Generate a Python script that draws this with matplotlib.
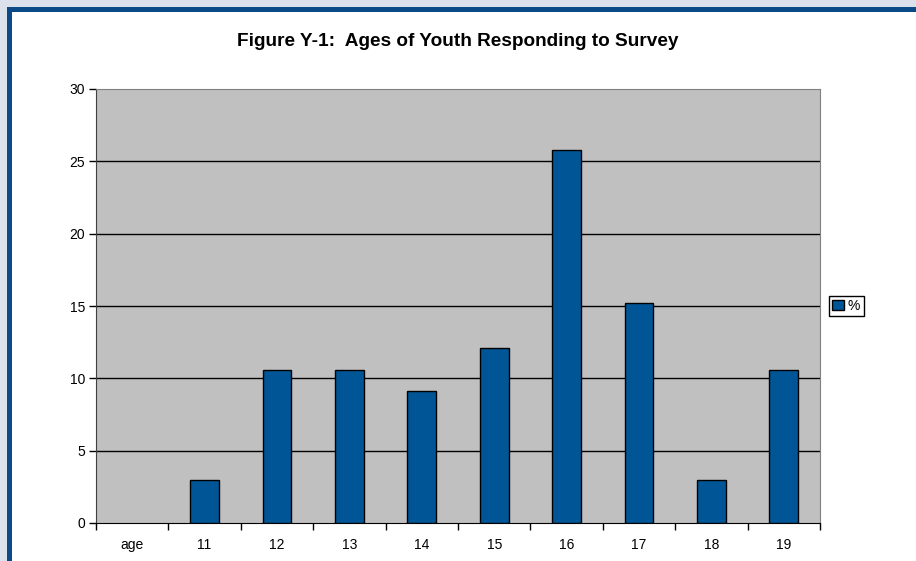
import matplotlib.pyplot as plt
from matplotlib.patches import Rectangle

categories = ['age', '11', '12', '13', '14', '15', '16', '17', '18', '19']
# the "age" header column carries no value
percent = [float('nan'), 3.0, 10.6, 10.6, 9.1, 12.1, 25.8, 15.2, 3.0, 10.6]

plt.rcParams['font.family'] = ['Liberation Sans', 'DejaVu Sans']

fig = plt.figure(figsize=(9.16, 5.61), dpi=100)
W, H = 916, 561

# page frame: pale band with a dark blue rule inside it
fig.patches.append(Rectangle((0, 0), 1, 1, transform=fig.transFigure,
                             facecolor='#dde1ec', edgecolor='none', zorder=-3))
fig.patches.append(Rectangle((7 / W, 0), 1, 1 - 7 / H, transform=fig.transFigure,
                             facecolor='#0b4a86', edgecolor='none', zorder=-2))
fig.patches.append(Rectangle((12 / W, 0), 1, 1 - 12 / H, transform=fig.transFigure,
                             facecolor='white', edgecolor='none', zorder=-1))

ax = fig.add_axes([96 / W, 1 - 523 / H, (820 - 96) / W, (523 - 89) / H])
ax.set_facecolor('#c0c0c0')

x = range(len(categories))
bars = ax.bar(x, percent, width=0.4, color='#005596', edgecolor='black',
              linewidth=1, zorder=3, label='%')

ax.set_xlim(-0.5, len(categories) - 0.5)
ax.set_ylim(0, 30)
ax.set_yticks(range(0, 31, 5))
for v in range(5, 30, 5):
    ax.axhline(v, color='black', linewidth=1, zorder=1)

ax.set_xticks([i - 0.5 for i in range(len(categories) + 1)])
ax.set_xticklabels([])
ax.set_xticks(list(x), minor=True)
ax.set_xticklabels(categories, minor=True)
ax.tick_params(axis='x', which='major', direction='out', length=5, width=1)
ax.tick_params(axis='x', which='minor', length=0, pad=11, labelsize=10)
ax.tick_params(axis='y', direction='out', length=5, width=1, pad=3, labelsize=10)

for side in ('top', 'right'):
    ax.spines[side].set_color('#808080')
ax.spines['left'].set_color('#404040')
ax.spines['bottom'].set_color('black')

fig.text(0.5, 1 - 42 / H, 'Figure Y-1:  Ages of Youth Responding to Survey',
         ha='center', va='center', fontsize=13.7, fontweight='bold')

fig.legend(handles=[bars], labels=['%'], loc='center left',
           bbox_to_anchor=(829 / W, 1 - 306 / H), frameon=True, fancybox=False,
           edgecolor='black', framealpha=1, fontsize=10, handlelength=0.8,
           handleheight=0.8, handletextpad=0.3, borderpad=0.25,
           borderaxespad=0)

fig.savefig('out.png', dpi=100)
